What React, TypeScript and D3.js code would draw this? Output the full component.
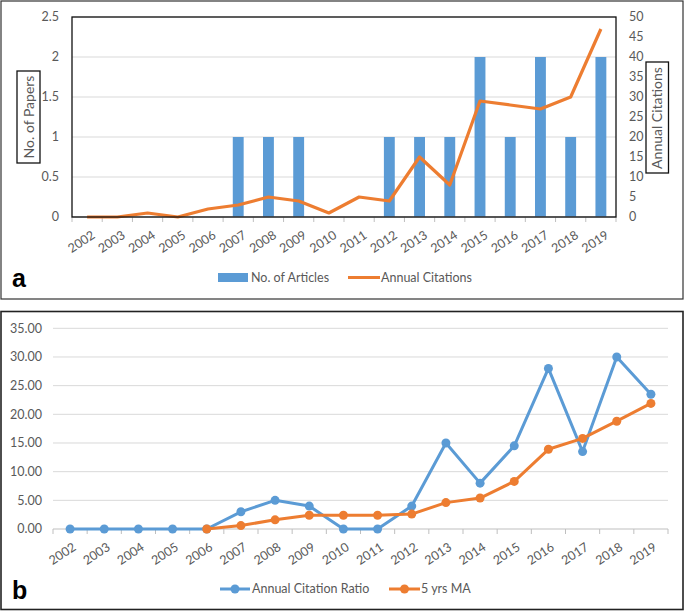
import React from 'react';
import * as d3 from 'd3';

const years = ['2002', '2003', '2004', '2005', '2006', '2007', '2008', '2009', '2010', '2011', '2012', '2013', '2014', '2015', '2016', '2017', '2018', '2019'];
const articles = [0, 0, 0, 0, 0, 1, 1, 1, 0, 0, 1, 1, 1, 2, 1, 2, 1, 2];
const annualCitations = [0, 0, 1, 0, 2, 3, 5, 4, 1, 5, 4, 15, 8, 29, 28, 27, 30, 47];
const citationRatio = [0, 0, 0, 0, 0, 3, 5, 4, 0, 0, 4, 15, 8, 14.5, 28, 13.5, 30, 23.5];
const movingAvg: (number | null)[] = [null, null, null, null, 0, 0.6, 1.6, 2.4, 2.4, 2.4, 2.6, 4.6, 5.4, 8.3, 13.9, 15.8, 18.8, 21.9];
const paperTicks = [0, 0.5, 1, 1.5, 2, 2.5];
const citationTicks = [0, 5, 10, 15, 20, 25, 30, 35, 40, 45, 50];
const ratioTicks = [0, 5, 10, 15, 20, 25, 30, 35];

const BLUE = '#5B9BD5';
const ORANGE = '#ED7D31';
const TXT = '#595959';
const GRID = '#D9D9D9';
const FONT = 'Lato, "Open Sans", sans-serif';

export default function App() {
  // top chart (a)
  const xa = d3.scaleBand().domain(years).range([72, 616]);
  const yl = d3.scaleLinear().domain([0, 2.5]).range([217, 17]);
  const yr = d3.scaleLinear().domain([0, 50]).range([217, 17]);
  const bwA = xa.bandwidth();
  const barW = bwA * 0.36;
  const citeLine = d3.line<number>()
    .x((d, i) => (xa(years[i]) as number) + bwA / 2)
    .y((d) => yr(d));

  // bottom chart (b)
  const xb = d3.scaleBand().domain(years).range([53, 668]);
  const yb = d3.scaleLinear().domain([0, 35]).range([529, 328.3]);
  const bwB = xb.bandwidth();
  const cxB = (i: number) => (xb(years[i]) as number) + bwB / 2;
  const ratioLine = d3.line<number>().x((d, i) => cxB(i)).y((d) => yb(d));
  const maLine = d3.line<number | null>()
    .defined((d) => d !== null)
    .x((d, i) => cxB(i))
    .y((d) => yb(d as number));

  return (
    <svg width={685} height={612} style={{ position: 'absolute', left: 0, top: 0, background: '#fff' }} fontFamily={FONT}>
      {/* panel borders */}
      <rect x={1} y={1} width={682} height={298} fill="none" stroke="#333" strokeWidth={1.2} />
      <rect x={1} y={311.5} width={682} height={298} fill="none" stroke="#222" strokeWidth={1.6} />

      {/* ---- chart a ---- */}
      {paperTicks.map((t) => (
        <g key={'pl' + t}>
          <line x1={72} x2={616} y1={yl(t)} y2={yl(t)} stroke={GRID} strokeWidth={1} />
          <text x={59} y={yl(t)} dy="0.35em" textAnchor="end" fontSize={12.5} fill={TXT}>{t}</text>
        </g>
      ))}
      {citationTicks.map((t) => (
        <text key={'cr' + t} x={629} y={yr(t)} dy="0.35em" fontSize={12.5} fill={TXT}>{t}</text>
      ))}
      {articles.map((v, i) => (
        <rect key={'bar' + i} x={(xa(years[i]) as number) + (bwA - barW) / 2} y={yl(v)} width={barW} height={yl(0) - yl(v)} fill={BLUE} />
      ))}
      <line x1={72} x2={616} y1={217} y2={217} stroke="#BFBFBF" strokeWidth={1} />
      {years.concat(['end']).map((y, i) => {
        const x = 72 + i * bwA;
        return <line key={'ta' + i} x1={x} x2={x} y1={217} y2={222} stroke="#BFBFBF" strokeWidth={1} />;
      })}
      <path d={citeLine(annualCitations) || ''} fill="none" stroke={ORANGE} strokeWidth={3.2} strokeLinejoin="round" />
      <rect x={72} y={17} width={544} height={200} fill="none" stroke="#111" strokeWidth={1.3} />
      {years.map((y, i) => (
        <text key={'xa' + y} transform={`translate(${(xa(y) as number) + bwA / 2 + 4},${230}) rotate(-33)`} dy="0.7em" textAnchor="end" fontSize={12.5} fill={TXT}>{y}</text>
      ))}
      {/* axis titles */}
      <rect x={17} y={71} width={23} height={92} fill="#fff" stroke="#111" strokeWidth={1.3} />
      <text transform="translate(29,117) rotate(-90)" textAnchor="middle" dy="0.35em" fontSize={14} fill={TXT}>No. of Papers</text>
      <rect x={646} y={62} width={22.5} height={111} fill="#fff" stroke="#111" strokeWidth={1.3} />
      <text transform="translate(657,118) rotate(-90)" textAnchor="middle" dy="0.35em" fontSize={14} fill={TXT}>Annual Citations</text>
      {/* legend a */}
      <text x={12} y={287} fontSize={25} fontWeight="bold" fontFamily="'Liberation Sans', Arial, sans-serif" fill="#000">a</text>
      <rect x={218} y={273} width={30} height={9} fill={BLUE} />
      <text x={251} y={277.5} dy="0.35em" fontSize={12.5} fill={TXT}>No. of Articles</text>
      <line x1={348} x2={380} y1={277.5} y2={277.5} stroke={ORANGE} strokeWidth={3} />
      <text x={381} y={277.5} dy="0.35em" fontSize={12.5} fill={TXT}>Annual Citations</text>

      {/* ---- chart b ---- */}
      {ratioTicks.map((t) => (
        <g key={'rb' + t}>
          <line x1={53} x2={668} y1={yb(t)} y2={yb(t)} stroke={t === 0 ? '#BFBFBF' : GRID} strokeWidth={1} />
          <text x={42} y={yb(t)} dy="0.35em" textAnchor="end" fontSize={12.5} fill={TXT}>{t.toFixed(2)}</text>
        </g>
      ))}
      {years.concat(['end']).map((y, i) => {
        const x = 53 + i * bwB;
        return <line key={'tb' + i} x1={x} x2={x} y1={529} y2={534} stroke="#BFBFBF" strokeWidth={1} />;
      })}
      <path d={ratioLine(citationRatio) || ''} fill="none" stroke={BLUE} strokeWidth={3} strokeLinejoin="round" />
      {citationRatio.map((v, i) => (
        <circle key={'rp' + i} cx={cxB(i)} cy={yb(v)} r={4.5} fill={BLUE} />
      ))}
      <path d={maLine(movingAvg) || ''} fill="none" stroke={ORANGE} strokeWidth={3} strokeLinejoin="round" />
      {movingAvg.map((v, i) => v === null ? null : (
        <circle key={'mp' + i} cx={cxB(i)} cy={yb(v)} r={4.5} fill={ORANGE} />
      ))}
      {years.map((y, i) => (
        <text key={'xb' + y} transform={`translate(${cxB(i) + 2},${542}) rotate(-33)`} dy="0.7em" textAnchor="end" fontSize={12.5} fill={TXT}>{y}</text>
      ))}
      {/* legend b */}
      <text x={12} y={599} fontSize={25} fontWeight="bold" fontFamily="'Liberation Sans', Arial, sans-serif" fill="#000">b</text>
      <line x1={220} x2={250} y1={589} y2={589} stroke={BLUE} strokeWidth={3} />
      <circle cx={235} cy={589} r={4.5} fill={BLUE} />
      <text x={252} y={589} dy="0.35em" fontSize={12.5} fill={TXT}>Annual Citation Ratio</text>
      <line x1={389} x2={420} y1={589} y2={589} stroke={ORANGE} strokeWidth={3} />
      <circle cx={404.5} cy={589} r={4.5} fill={ORANGE} />
      <text x={421} y={589} dy="0.35em" fontSize={12.5} fill={TXT}>5 yrs MA</text>
    </svg>
  );
}
